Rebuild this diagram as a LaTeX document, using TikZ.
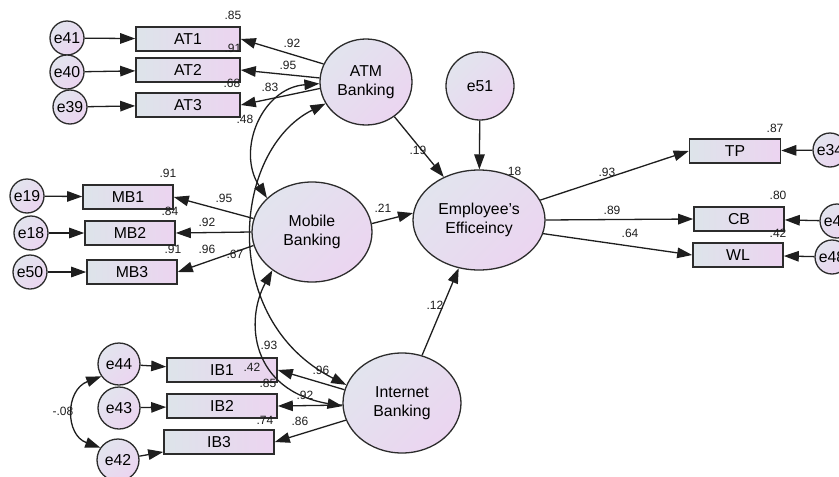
\documentclass[tikz,border=0pt]{standalone}
\usepackage{fontspec}
\setmainfont{Liberation Sans}
\usetikzlibrary{arrows.meta,shapes.geometric}
\definecolor{bl}{HTML}{DDE4EA}
\definecolor{pk}{HTML}{ECD4F0}
\definecolor{bl2}{HTML}{E2E4EE}
\definecolor{pk2}{HTML}{EBD5F0}
\definecolor{bd}{HTML}{2C2C2C}
\definecolor{ln}{HTML}{1E1E1E}
\tikzset{
  nfont/.style={font=\fontsize{15.8}{19}\selectfont},
  obsbox/.style={rectangle, draw=bd, line width=1.6pt, left color=bl, right color=pk, minimum width=#1, minimum height=24pt, inner sep=0pt, nfont},
  latent/.style={ellipse, draw=bd, line width=1.3pt, top color=bl2, bottom color=pk2, shading angle=45, inner sep=0pt, align=center, nfont},
  errc/.style={circle, draw=bd, line width=1.3pt, top color=bl2, bottom color=pk2, shading angle=45, inner sep=0pt, minimum size=#1, nfont},
  lab/.style={font=\fontsize{12}{14}\selectfont, text=ln, inner sep=0pt},
  arr/.style={-{Triangle[length=15pt,width=10.5pt]}, line width=1.3pt, draw=ln},
  cov/.style={{Triangle[length=15pt,width=10.5pt]}-{Triangle[length=15pt,width=10.5pt]}, line width=1.3pt, draw=ln},
}
\begin{document}
\begin{tikzpicture}[x=1pt,y=-1pt]
\useasboundingbox[fill=white] (0,0) rectangle (839,477);
% latent variables
\node[latent, minimum width=92pt, minimum height=86pt] (atm) at (366,82) {ATM\\Banking};
\node[latent, minimum width=120pt, minimum height=100pt] (mob) at (312,232) {Mobile\\Banking};
\node[latent, minimum width=118pt, minimum height=100pt] (int) at (402,403) {Internet\\Banking};
\node[latent, minimum width=132pt, minimum height=100pt] (emp) at (479,220) {Employee's\\Efficeincy};
\node[errc=68pt] (e51) at (480,86) {e51};
% observed boxes
\node[obsbox=104pt] (at1) at (188,39) {AT1};
\node[obsbox=104pt] (at2) at (188,70) {AT2};
\node[obsbox=104pt] (at3) at (188,105) {AT3};
\node[obsbox=90pt] (mb1) at (128,197) {MB1};
\node[obsbox=90pt] (mb2) at (130,233) {MB2};
\node[obsbox=90pt] (mb3) at (132,272) {MB3};
\node[obsbox=110pt] (ib1) at (222,370) {IB1};
\node[obsbox=110pt] (ib2) at (222,406) {IB2};
\node[obsbox=110pt] (ib3) at (219,442) {IB3};
\node[obsbox=91pt] (tp) at (735,151) {TP};
\node[obsbox=90pt] (cb) at (739,219) {CB};
\node[obsbox=90pt] (wl) at (738,255) {WL};
% error terms
\node[errc=34pt] (e41) at (67,38) {e41};
\node[errc=34pt] (e40) at (67,72) {e40};
\node[errc=34pt] (e39) at (70,107) {e39};
\node[errc=34pt] (e19) at (27,196) {e19};
\node[errc=34pt] (e18) at (31,233) {e18};
\node[errc=34pt] (e50) at (30,272) {e50};
\node[errc=42pt] (e44) at (119,364) {e44};
\node[errc=42pt] (e43) at (119,408) {e43};
\node[errc=42pt] (e42) at (118,460) {e42};
\node[errc=34pt] (e34) at (830,150) {e34};
\node[errc=34pt] (e47) at (837,221) {e4\phantom{7}};
\node[errc=34pt] (e48) at (832,257) {e48};
% error arrows
\draw[arr] (e41) -- (at1);
\draw[arr] (e40) -- (at2);
\draw[arr] (e39) -- (at3);
\draw[arr] (e19) -- (mb1);
\draw[arr] (e18) -- (mb2);
\draw[arr] (e50) -- (mb3);
\draw[arr] (e44) -- (ib1);
\draw[arr] (e43) -- (ib2);
\draw[arr] (e42) -- (ib3);
\draw[arr] (e34) -- (tp);
\draw[arr] (e47) -- (cb);
\draw[arr] (e48) -- (wl);
\draw[arr] (e51) -- (emp);
% loadings
\draw[arr] (atm.157) -- (at1.east);
\draw[arr] (atm.175) -- (at2.east);
\draw[arr] (atm.188) -- (at3.east);
\draw[arr] (mob.167) -- (mb1.east);
\draw[arr] (mob.west) -- (mb2.east);
\draw[arr] (mob.193) -- (mb3.east);
\draw[arr] (int.167) -- (ib1.east);
\draw[arr] (int.182) -- (ib2.east);
\draw[arr] (int.197) -- (ib3.east);
\draw[arr] (emp.18) -- (tp.west);
\draw[arr] (emp.east) -- (cb.west);
\draw[arr] (emp.-12) -- (wl.west);
% structural paths
\draw[arr] (atm) -- (emp);
\draw[arr] (mob.8) -- (emp.174);
\draw[arr] (int) -- (emp);
% covariances
\draw[cov] (atm.182) .. controls (262,88) and (236,150) .. (mob.143);
\draw[cov] (atm.208) .. controls (232,150) and (218,320) .. (int.162);
\draw[cov] (mob.224) .. controls (245,320) and (250,390) .. (int.183);
\draw[cov] (e44.215) .. controls (65,390) and (65,435) .. (e42.145);
% labels
\node[lab] (l01) at (233,15) {.85};
\node[lab] (l02) at (233,48) {.91};
\node[lab] (l03) at (292,43) {.92};
\node[lab] (l04) at (288,65) {.95};
\node[lab] (l05) at (232,83) {.68};
\node[lab] (l06) at (270,87) {.83};
\node[lab] (l07) at (245,119) {.48};
\node[lab] (l08) at (168,173) {.91};
\node[lab] (l09) at (224,198) {.95};
\node[lab] (l10) at (170,211) {.84};
\node[lab] (l11) at (207,222) {.92};
\node[lab] (l12) at (173,249) {.91};
\node[lab] (l13) at (207,249) {.96};
\node[lab] (l14) at (235,254) {.67};
\node[lab] (l15) at (269,345) {.93};
\node[lab] (l16) at (252,367) {.42};
\node[lab] (l17) at (321,370) {.96};
\node[lab] (l18) at (268,383) {.85};
\node[lab] (l19) at (305,395) {.92};
\node[lab] (l20) at (265,420) {.74};
\node[lab] (l21) at (300,421) {.86};
\node[lab] (l22) at (418,150) {.19};
\node[lab] (l23) at (513,171) {.18};
\node[lab] (l24) at (383,208) {.21};
\node[lab] (l25) at (607,172) {.93};
\node[lab] (l26) at (612,210) {.89};
\node[lab] (l27) at (630,233) {.64};
\node[lab] (l28) at (775,128) {.87};
\node[lab] (l29) at (778,195) {.80};
\node[lab] (l30) at (778,233) {.42};
\node[lab] (l31) at (435,305) {.12};
\node[lab] (l32) at (63,411) {-.08};
\end{tikzpicture}
\end{document}
